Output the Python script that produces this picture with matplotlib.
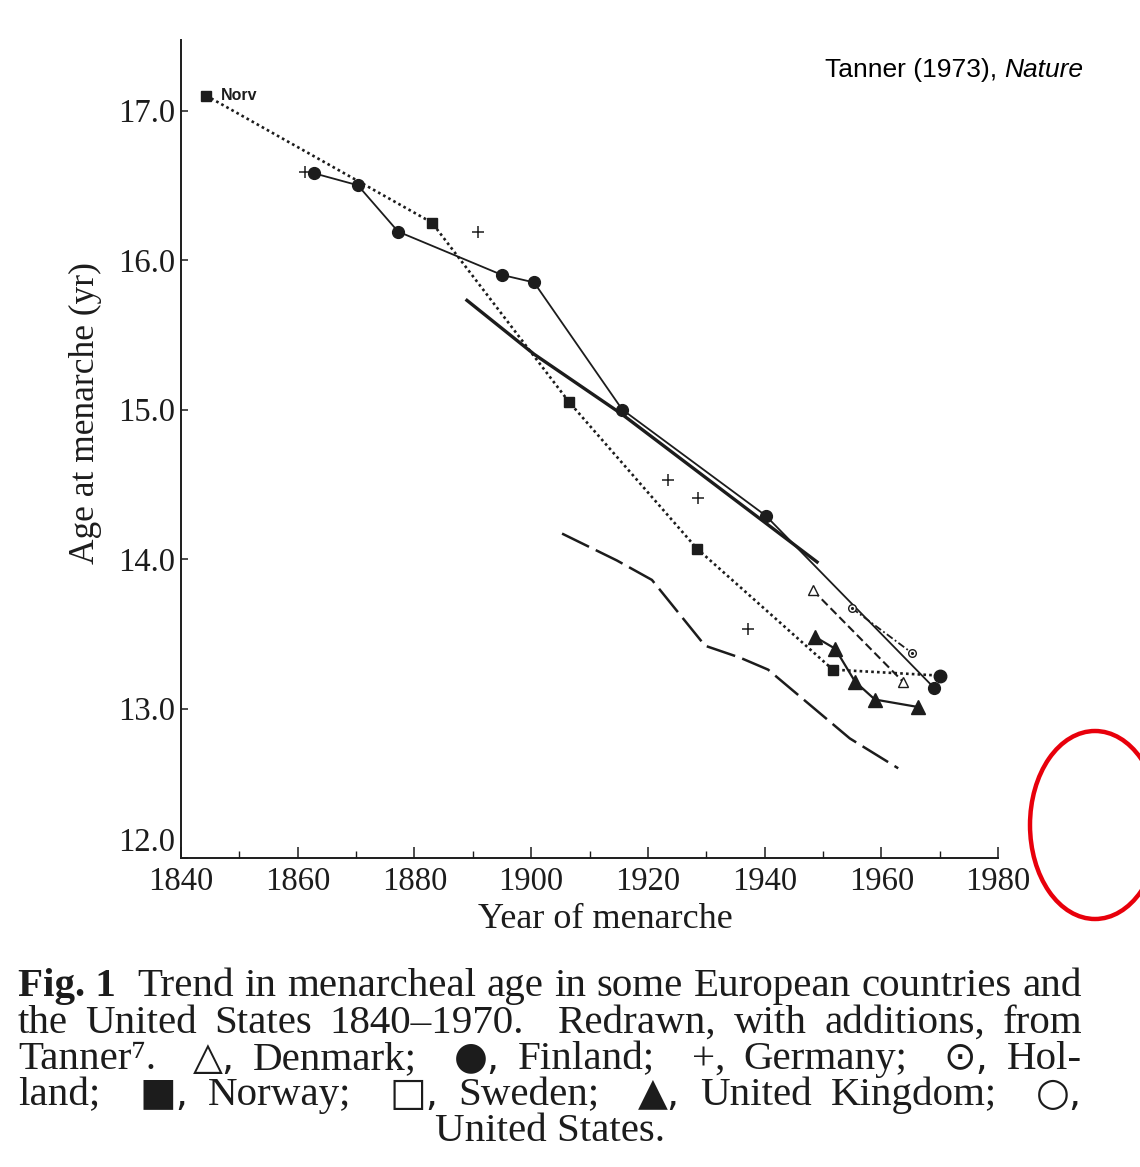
import matplotlib
matplotlib.use("Agg")
import matplotlib.pyplot as plt
from matplotlib.patches import Ellipse

plt.rcParams['font.family'] = ['Liberation Serif', 'DejaVu Serif', 'DejaVu Sans']

# ---------------- data ----------------
norway_years = [1844.3, 1883.0, 1906.5, 1928.4, 1951.7, 1970.1]
norway_ages = [17.10, 16.25, 15.05, 14.07, 13.26, 13.22]

finland_years = [1862.8, 1870.3, 1877.2, 1895.0, 1900.5, 1915.6, 1940.2, 1969.0]
finland_ages = [16.58, 16.50, 16.19, 15.90, 15.85, 15.00, 14.29, 13.14]

sweden_years = [1889.0, 1900.5, 1915.5, 1949.0]
sweden_ages = [15.73, 15.37, 14.97, 13.98]

us_years = [1905.3, 1914.7, 1920.7, 1929.8, 1935.8, 1940.6, 1954.6, 1962.9]
us_ages = [14.17, 13.99, 13.86, 13.42, 13.34, 13.26, 12.80, 12.60]

germany_years = [1861.2, 1890.9, 1923.4, 1928.6, 1937.2]
germany_ages = [16.59, 16.19, 14.53, 14.41, 13.53]

denmark_years = [1948.3, 1963.7]
denmark_ages = [13.79, 13.18]

holland_years = [1955.0, 1965.3]
holland_ages = [13.67, 13.37]

uk_years = [1948.6, 1952.1, 1955.5, 1958.9, 1966.3]
uk_ages = [13.48, 13.40, 13.18, 13.06, 13.01]

x_ticks = [1840, 1860, 1880, 1900, 1920, 1940, 1960, 1980]
y_ticks = [12.0, 13.0, 14.0, 15.0, 16.0, 17.0]
y_ticklabels = ["12.0", "13.0", "14.0", "15.0", "16.0", "17.0"]

caption_lines = [
    ["Fig. 1", "Trend", "in", "menarcheal", "age", "in", "some", "European", "countries", "and"],
    ["the", "United", "States", "1840\u20131970.", "Redrawn,", "with", "additions,", "from"],
    ["Tanner\u2077.", "\u25b3,", "Denmark;", "\u25cf,", "Finland;", "+,", "Germany;", "\u2299,", "Hol-"],
    ["land;", "\u25a0,", "Norway;", "\u25a1,", "Sweden;", "\u25b2,", "United", "Kingdom;", "\u25cb,"],
]
caption_last = "United States."
symbol_chars = "\u25b3\u25cf\u2299\u25a0\u25a1\u25b2\u25cb"

# ---------------- figure ----------------
W, H = 1140, 1167
fig = plt.figure(figsize=(W / 100, H / 100), dpi=100)
fig.patch.set_facecolor('white')

# overlay axes in pixel coordinates for caption / annotations
ov = fig.add_axes([0, 0, 1, 1])
ov.set_xlim(0, W)
ov.set_ylim(H, 0)
ov.axis('off')
ov.patch.set_alpha(0)

ax = fig.add_axes([181 / W, 1 - 858 / H, (998 - 181) / W, (858 - 40) / H])
ax.patch.set_alpha(0)
ax.set_xlim(1840, 1980)
ax.set_ylim(12.0, 12.0 + 818 / 149.5)

ink = '#1c1c1c'

# Norway: dotted with filled squares
ax.plot(norway_years, norway_ages, color=ink, lw=1.9, ls=(0, (1, 1.2)),
        marker='s', ms=7, markevery=list(range(len(norway_years) - 1)), zorder=3)
ax.plot(norway_years[-1:], norway_ages[-1:], 'o', color=ink, ms=9, zorder=3)
ax.annotate("Norv", xy=(norway_years[0], norway_ages[0]), xytext=(11, 0),
            textcoords='offset points', va='center', ha='left',
            fontsize=11.5, fontweight='bold', family=['Liberation Sans', 'DejaVu Sans'], color=ink)

# Finland: solid thin with filled circles
ax.plot(finland_years, finland_ages, color=ink, lw=1.3, marker='o', ms=8.5, zorder=3)

# Sweden: thick solid
ax.plot(sweden_years, sweden_ages, color=ink, lw=2.4, zorder=2)

# United States: long dashes
ax.plot(us_years, us_ages, color=ink, lw=1.8, ls=(0, (12, 3)), zorder=2)

# Germany: plus markers only
ax.plot(germany_years, germany_ages, ls='none', marker='+', ms=8, mew=1.1, color=ink, zorder=3)

# Denmark: dashed with open triangles
ax.plot(denmark_years, denmark_ages, color=ink, lw=1.5, ls=(0, (4, 2)),
        marker='^', ms=7, mfc='white', mec=ink, mew=1.0, zorder=3)

# Holland: dash-dot with dotted circles
ax.plot(holland_years, holland_ages, color=ink, lw=1.3, ls=(0, (4, 1.5, 1, 1.5)),
        marker='o', ms=5.5, mfc='white', mec=ink, mew=1.0, zorder=3)
ax.plot(holland_years, holland_ages, ls='none', marker='.', ms=2.5, color=ink, zorder=4)

# United Kingdom: solid with filled triangles
ax.plot(uk_years, uk_ages, color=ink, lw=1.6, marker='^', ms=9.5, zorder=3)

# axes styling
for s in ['top', 'right']:
    ax.spines[s].set_visible(False)
for s in ['left', 'bottom']:
    ax.spines[s].set_linewidth(1.4)
    ax.spines[s].set_color(ink)

ax.set_xticks(x_ticks)
ax.set_xticks(list(range(1850, 1980, 20)), minor=True)
ax.set_yticks(y_ticks)
ax.set_yticklabels(y_ticklabels)
ax.tick_params(axis='x', which='major', direction='in', length=8, width=1.1,
               pad=6, labelsize=23.5, colors=ink)
ax.tick_params(axis='x', which='minor', direction='in', length=5, width=1.0, colors=ink)
ax.tick_params(axis='y', which='major', direction='in', length=5, width=1.1,
               pad=4, labelsize=23.5, colors=ink)
# lowest y label sits just above the x axis, as in the original
ax.get_yticklabels()[0].set_va('bottom')

ax.set_xlabel("Year of menarche", fontsize=26, va='center', color=ink)
ax.xaxis.set_label_coords((605 - 181) / 817, -(920 - 858) / 818)
ax.set_ylabel("Age at menarche (yr)", fontsize=25.5, va='center', color=ink)
ax.yaxis.set_label_coords((85 - 181) / 817, (858 - 413) / 818)

# source note
src_font = ['Liberation Sans', 'DejaVu Sans']
t_src = ov.text(825, 70, "Tanner (1973), ", fontsize=19, family=src_font,
                va='center', ha='left', color='black')

# ---------------- caption, justified ----------------
fig.canvas.draw()
renderer = fig.canvas.get_renderer()

bb = t_src.get_window_extent(renderer)
ov.text(825 + bb.width, 70, "Nature", fontsize=19, style='italic',
        family=src_font, va='center', ha='left', color='black')

cap_size = 29.5
baselines = [996, 1033, 1069, 1105]
x0, x1 = 18, 1082
for words, yb in zip(caption_lines, baselines):
    texts = []
    for w in words:
        bold = w.startswith("Fig.")
        is_sym = w[0] in symbol_chars
        fam = ['DejaVu Sans'] if is_sym else ['Liberation Serif', 'DejaVu Sans']
        t = ov.text(0, yb, w, fontsize=cap_size * (0.95 if is_sym else 1.0),
                    va='baseline', ha='left', color=ink,
                    fontweight='bold' if bold else 'normal', family=fam)
        texts.append(t)
    widths = [t.get_window_extent(renderer).width for t in texts]
    weights = []
    for w in words[:-1]:
        weights.append(2.0 if (w.endswith(';') or w.endswith('.') or w.startswith('Fig.')) else 1.0)
    free = (x1 - x0) - sum(widths)
    unit = free / sum(weights)
    x = x0
    for i, (t, wd) in enumerate(zip(texts, widths)):
        t.set_x(x)
        if i < len(weights):
            x += wd + unit * weights[i]

ov.text(550, 1141, caption_last, fontsize=cap_size, va='baseline', ha='center', color=ink,
        family=['Liberation Serif', 'DejaVu Sans'])

# red annotation ellipse at the right edge
ov.add_patch(Ellipse((1095, 825), 130, 188, fill=False, edgecolor='#e8000b', lw=3.2, clip_on=True))

fig.savefig("out.png", dpi=100, facecolor='white')
